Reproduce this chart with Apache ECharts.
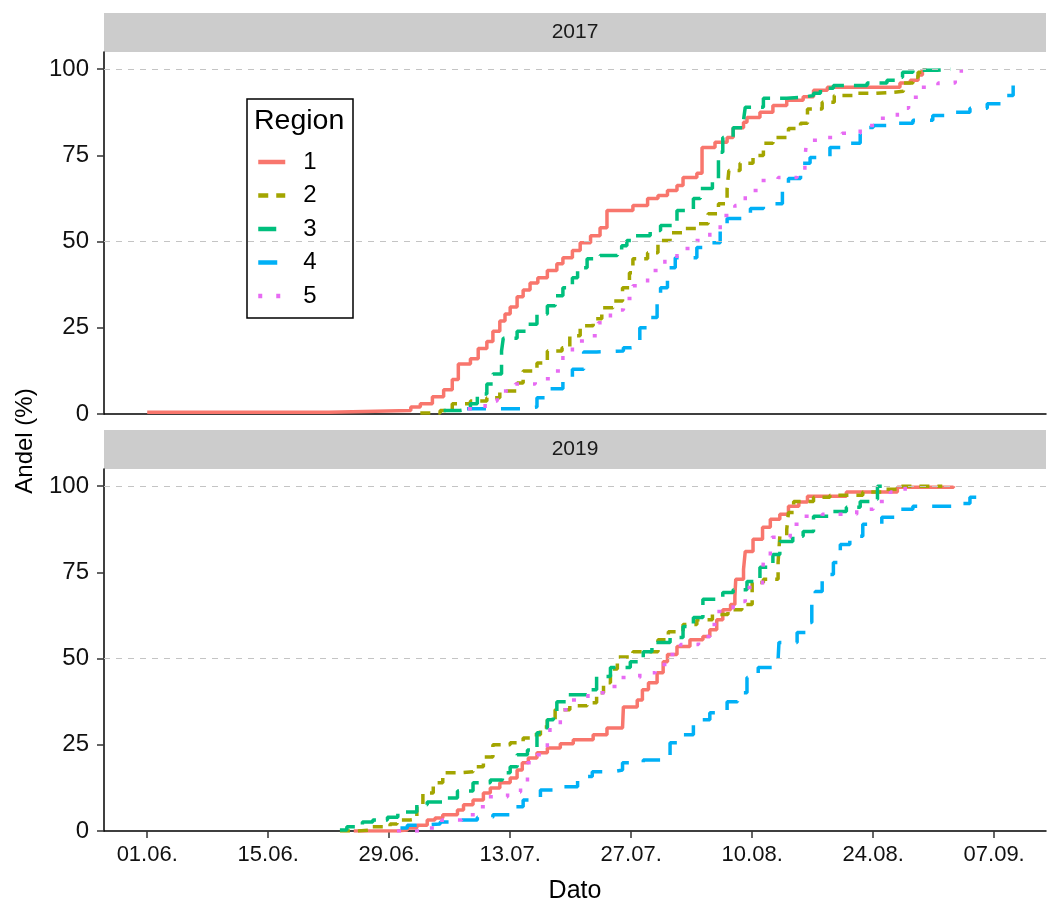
<!DOCTYPE html>
<html>
<head>
<meta charset="utf-8">
<title>Andel per region 2017 og 2019</title>
<script src="https://cdn.jsdelivr.net/npm/echarts@6.0.0/dist/echarts.min.js"></script>
<style>
  html, body { margin: 0; padding: 0; background: #fff; }
  #chart { width: 1047px; height: 903px; }
</style>
</head>
<body>
<div id="chart"></div>
<script>
// x = dager etter 01.06., y = andel (%)
const regions = ['1', '2', '3', '4', '5']
const years = ['2017', '2019']
const tickDays = [0, 14, 28, 42, 56, 70, 84, 98]
const yTicks = [0, 25, 50, 75, 100]
const gridLines = [50, 100]

const r1_2017 = [[0, 0.5], [21, 1], [30.5, 2], [31.6, 3], [33, 5], [34.3, 7], [35.3, 10], [36, 14.5], [37.4, 16], [38.3, 19], [39.3, 21], [40, 24], [40.8, 27], [41.4, 29], [42, 31], [42.8, 34], [43.5, 36], [44.3, 38], [45.2, 39.5], [46.3, 41.6], [47.4, 43.6], [48.1, 45.3], [49.2, 47.4], [50.1, 49.7], [51.3, 51.7], [52.4, 54], [53.2, 59], [56.2, 60.5], [57.9, 62.5], [59.1, 63.4], [60.2, 64.8], [61.3, 66.3], [62, 68.6], [63.6, 69.8], [64.2, 77.3], [65.7, 78.8], [67.1, 80.2], [67.8, 83], [69, 84.6], [69.4, 86], [70.9, 87.5], [72.4, 89.5], [74, 91], [75.9, 92], [77.1, 93.9], [78.7, 94.8], [87.1, 96], [88.3, 96.8], [89.2, 98.3], [89.7, 99.7], [90.2, 100]]
const r2_2017 = [[31.6, 0.3], [33.9, 1], [35.3, 3], [37.4, 3.8], [39.3, 4.7], [40.8, 6.7], [42.8, 9], [43.5, 12.5], [45.1, 14.8], [46.3, 18.3], [48, 19.2], [48.9, 22.7], [50.1, 25.6], [51.6, 27.6], [52.6, 30.8], [53.9, 32.8], [55, 36.6], [55.8, 41], [56.2, 45], [57.9, 46.8], [59.1, 50.3], [60.5, 52.6], [62.2, 53.8], [63.8, 55.2], [64.9, 58.1], [66.1, 61], [67.1, 65.4], [67.3, 70.6], [68.6, 72.7], [70.1, 75], [71.3, 78.5], [72.4, 80.2], [74.2, 82.8], [75.6, 84.3], [76.4, 88.5], [78.1, 90.4], [79.5, 92.4], [81.9, 93], [83.9, 93.3], [86.2, 93.6], [87.5, 96], [88.6, 97.7], [89.2, 99.1], [90, 100]]
const r3_2017 = [[34.3, 1], [36.2, 1.5], [37.4, 3], [38.2, 5.8], [39.3, 8.7], [40, 11.6], [41, 18.3], [41.2, 22], [42.8, 24], [44, 26], [45.1, 29], [46.3, 31.4], [47.2, 34.3], [48.1, 36.6], [49.2, 39.5], [49.8, 42.4], [50.9, 45], [52.4, 46], [54.4, 47.6], [54.9, 48.8], [55.5, 50.3], [56.1, 51.7], [58.2, 53.2], [59.4, 54.7], [61.3, 59], [63.2, 62.5], [64, 65.4], [65.4, 68.3], [66.1, 75.9], [66.6, 80.2], [67.8, 83], [69, 85.2], [69.2, 89], [71.3, 91.6], [74, 91.9], [75.9, 92.4], [77.1, 93], [77.9, 94.5], [79.4, 95.3], [83.3, 96], [85.6, 96.8], [86.9, 97.7], [87.4, 99.1], [88.6, 99.7], [91.4, 100], [93, 100]]
const r4_2017 = [[37, 1.5], [43.2, 2], [45.1, 4.7], [46.3, 7.3], [48.1, 10.2], [49.2, 13], [50.5, 18], [52, 18.3], [55.1, 19.2], [55.9, 19.5], [57, 25], [57.9, 28], [59, 34.3], [59.4, 36.6], [60.2, 42.4], [61.1, 45.3], [63.6, 48.3], [64.8, 49.7], [66.3, 54], [67.1, 56.7], [69.8, 59.6], [71.3, 61], [73.5, 64.8], [74.2, 68.3], [75.6, 72.7], [76.7, 74.4], [79, 77.3], [80.8, 78.5], [82.5, 83.1], [84, 83.7], [86.8, 84.3], [88.6, 85.2], [90.9, 86.6], [92.6, 87.5], [95.2, 88.7], [97.2, 90], [99.5, 92.4], [100.2, 95.3]]
const r5_2017 = [[37.1, 1.5], [39.1, 3.8], [40.5, 6.7], [42.6, 8.7], [44.9, 10.2], [47, 12.5], [48.1, 16.9], [49.2, 21.2], [51.3, 22.7], [52.2, 26.5], [53.6, 30.2], [55.1, 33.5], [56.2, 37.2], [57.9, 41.6], [59.9, 45], [61.3, 48], [63.4, 50.3], [65.1, 53.2], [66.3, 57.6], [68, 60.5], [69.2, 64.8], [70.9, 67.7], [73, 68.6], [75.2, 69.8], [76.1, 74.1], [76.3, 79.4], [78.2, 80.2], [80.4, 81.4], [82.5, 83.7], [84.6, 85.8], [86.8, 88.7], [88.1, 91.9], [89.2, 94.8], [91.5, 96], [93.5, 98.3], [94.2, 100]]

const r1_2019 = [[23.9, 0], [28.9, 0.3], [30.1, 0.9], [31.2, 1.7], [32.4, 3.2], [33.3, 3.8], [34.2, 4.7], [35.9, 6.1], [36.6, 7.6], [37.7, 9], [38.9, 11], [39.7, 12.5], [40.8, 14], [42, 15.4], [42.8, 17.7], [43.4, 19.8], [44.1, 21.2], [45.1, 22.7], [46.3, 24.1], [47.8, 25.3], [49.3, 26.5], [51.6, 27.9], [53.2, 29.9], [55, 30.2], [55.1, 36], [56.7, 38], [57.3, 41], [58, 43], [59, 45.9], [59.7, 49.1], [60.2, 51.2], [61.3, 53.5], [62.8, 55.5], [64.3, 56.4], [65.1, 58.4], [65.9, 61.3], [66.6, 64.2], [67.5, 65.7], [68, 68], [68.1, 73], [69, 75.9], [69.2, 81.1], [70.1, 84.6], [71.2, 88.1], [72.1, 90.4], [73.2, 91.9], [74.2, 94.2], [75.4, 95.4], [76.4, 97.1], [80.9, 98.3], [86.8, 99.7], [93.3, 100]]
const r2_2019 = [[22.3, 0], [24.3, 0.3], [25.8, 1.2], [28.1, 2], [28.9, 3.2], [30.4, 3.5], [31.2, 7], [31.9, 11], [33.1, 14], [34.2, 16.9], [36.2, 17.2], [37.7, 18.6], [38.9, 21.5], [40, 25], [42, 25.6], [43.5, 27], [44.7, 27.9], [45.5, 30.2], [46.3, 32.3], [47.2, 35.2], [48.9, 36.3], [50.9, 37.2], [52, 40.1], [52.8, 43], [53.6, 47], [54.4, 50.5], [56.2, 52], [59.1, 55.5], [60.3, 57.8], [62, 59.9], [63.6, 61.3], [65.4, 62.8], [67.2, 64.2], [68.8, 65.7], [70, 72.1], [71.3, 73], [73, 77.9], [73.2, 85.5], [74, 87.5], [74.2, 92.4], [74.8, 95.6], [77.1, 96.8], [79, 97.4], [82.8, 98.3], [85.2, 99.1], [86.8, 100], [92, 100]]
const r3_2019 = [[22.3, 0.3], [23.1, 1.2], [24.9, 2.6], [26.1, 3.2], [27.8, 4], [29, 5.5], [31.2, 7.6], [32.4, 8.4], [34.2, 9.6], [35.9, 11.6], [37.7, 14], [39.7, 14.8], [41.1, 16.9], [42, 18.6], [42.8, 22.1], [44, 23.5], [45.1, 28.5], [46.3, 32.3], [47, 34.6], [47.4, 37.5], [48.7, 39.5], [50.9, 41], [52, 44.8], [53.6, 47.4], [55.9, 49.1], [57.4, 52], [58.4, 54.7], [60.5, 56.1], [62, 59.3], [63.2, 61.9], [64.3, 67.2], [66.6, 69.2], [67.8, 70], [69.4, 72.4], [70.9, 76.5], [72.4, 80.2], [73.2, 84], [74.7, 85.5], [75.9, 86.9], [77.1, 91.3], [79, 92.7], [80.9, 93.9], [82.5, 95.6], [84, 96.2], [84.5, 100], [85, 100]]
const r4_2019 = [[29.3, 0.9], [30.1, 1.7], [31.2, 2], [33.9, 2.6], [35.4, 3.2], [38.2, 4], [40, 4.7], [42.3, 7], [43.5, 9], [45.5, 11.9], [47, 12.8], [49.8, 15.8], [51.5, 17.2], [53.9, 17.7], [55, 19.8], [57.4, 20.6], [59.4, 21.2], [60.5, 25.6], [62, 27.9], [63.2, 32.3], [65.1, 34.3], [67.1, 37.5], [68.3, 40.1], [69.4, 44.5], [70.7, 47.4], [73, 49.7], [73.1, 54.7], [75.2, 57.6], [76.4, 60.5], [76.9, 66.3], [77.3, 69.5], [78.1, 74.4], [79.4, 77.9], [80.2, 83.1], [81.3, 85.5], [82.8, 89], [85, 91], [87.1, 93.3], [88.6, 94.2], [93.1, 95], [95.2, 96.8], [96.1, 99.7], [96.4, 100]]
const r5_2019 = [[28.9, 0], [32.4, 0.9], [34.1, 3.2], [36.4, 4.7], [38, 7], [39.5, 9.9], [41.7, 11.3], [43.2, 14], [44, 19.8], [45.1, 22.1], [46.3, 25.9], [46.6, 30.8], [47.8, 35.2], [48.7, 38], [51, 40.1], [53.2, 41.9], [54.7, 44.5], [57, 45.9], [58.8, 48.3], [60.2, 51.2], [61.7, 54.1], [63.8, 56.4], [65.1, 59.9], [65.9, 63.7], [67.8, 66.6], [69.2, 70.6], [71.2, 73], [71.3, 78.8], [72.1, 82.3], [72.3, 85.2], [74.4, 89], [75.9, 91.3], [78.1, 91.9], [80.4, 91.9], [82.1, 93.3], [84, 95.6], [86, 98.3], [87.7, 100], [88.5, 100]]

const panels = [
  [r1_2017, r2_2017, r3_2017, r4_2017, r5_2017],
  [r1_2019, r2_2019, r3_2019, r4_2019, r5_2019]
]

const colors = ['#F8766D', '#A3A500', '#00BF7D', '#00B0F6', '#E76BF3']
const dashes = ['solid', [10, 8], [18, 10], [19, 15], [4, 14]]
const font = '"Liberation Sans", Arial, sans-serif'

function pad(n) {
  return n < 10 ? '0' + n : '' + n
}

function dayLabel(d) {
  const dt = new Date(2019, 5, 1 + d)
  return pad(dt.getDate()) + '.' + pad(dt.getMonth() + 1) + '.'
}

// outerBoundsMode none: ellers krymper v6 rutenettet
const gridPos = [
  { left: 104, width: 942, top: 52, height: 362, outerBoundsMode: 'none' },
  { left: 104, width: 942, top: 469, height: 362, outerBoundsMode: 'none' }
]

const axisLine = { show: true, onZero: false, lineStyle: { color: '#000', width: 1.5 } }

const xAxis = gridPos.map((g, i) => ({
  type: 'value',
  gridIndex: i,
  min: -5,
  max: 104,
  axisLine: axisLine,
  axisTick: { show: i === 1, length: 7, lineStyle: { color: '#333', width: 1.5 }, customValues: tickDays },
  axisLabel: { show: i === 1, customValues: tickDays, formatter: dayLabel, fontSize: 22, color: '#111', margin: 13, fontFamily: font },
  splitLine: { show: false },
  name: i === 1 ? 'Dato' : '',
  nameLocation: 'middle',
  nameGap: 48,
  nameTextStyle: { fontSize: 25, color: '#000', fontFamily: font }
}))

const yAxis = gridPos.map((g, i) => ({
  type: 'value',
  gridIndex: i,
  min: 0,
  max: 105,
  interval: 25,
  axisLine: axisLine,
  axisTick: { show: true, length: 7, lineStyle: { color: '#333', width: 1.5 }, customValues: yTicks },
  axisLabel: { customValues: yTicks, fontSize: 24, color: '#111', margin: 15, fontFamily: font },
  splitLine: { show: false }
}))

const series = []
panels.forEach((list, p) => {
  list.forEach((data, i) => {
    const s = {
      name: regions[i],
      type: 'line',
      step: 'end',
      xAxisIndex: p,
      yAxisIndex: p,
      data: data,
      symbol: 'none',
      showSymbol: false,
      itemStyle: { color: colors[i] },
      lineStyle: { color: colors[i], width: 3.5, type: dashes[i], cap: 'butt' }
    }
    if (i === 0) {
      s.markLine = {
        silent: true,
        symbol: 'none',
        label: { show: false },
        lineStyle: { color: '#c4c4c4', type: [6, 6], width: 1 },
        data: gridLines.map(v => ({ yAxis: v }))
      }
    }
    series.push(s)
  })
})

const graphics = []
years.forEach((y, i) => {
  const g = gridPos[i]
  graphics.push({
    type: 'rect',
    shape: { x: g.left, y: g.top - 39, width: g.width, height: 39 },
    style: { fill: '#cccccc' },
    silent: true
  })
  graphics.push({
    type: 'text',
    x: g.left + g.width / 2,
    y: g.top - 19.5,
    style: { text: y, fontSize: 21, fill: '#1a1a1a', fontFamily: font, align: 'center', verticalAlign: 'middle' },
    silent: true
  })
})
graphics.push({
  type: 'text',
  x: 25,
  y: 441,
  rotation: Math.PI / 2,
  style: { text: 'Andel (%)', fontSize: 24, fill: '#000', fontFamily: font, align: 'center', verticalAlign: 'middle' },
  silent: true
})
// legend box + tittel
graphics.push({
  type: 'rect',
  shape: { x: 247, y: 99, width: 106, height: 219 },
  style: { fill: '#fff', stroke: '#000', lineWidth: 1.5 },
  z: 5,
  silent: true
})
graphics.push({
  type: 'text',
  x: 254,
  y: 121,
  style: { text: 'Region', fontSize: 28.5, fill: '#000', fontFamily: font, verticalAlign: 'middle' },
  z: 6,
  silent: true
})

const myChart = echarts.init(document.getElementById('chart'))
myChart.setOption({
  animation: false,
  backgroundColor: '#fff',
  grid: gridPos,
  xAxis: xAxis,
  yAxis: yAxis,
  legend: {
    orient: 'vertical',
    left: 251,
    top: 145,
    itemWidth: 27,
    itemHeight: 14,
    itemGap: 9.5,
    z: 10,
    itemStyle: { opacity: 0 },
    lineStyle: { width: 4.5 },
    textStyle: { fontSize: 24, color: '#000', fontFamily: font, lineHeight: 24, padding: [0, 0, 0, 13] },
    data: regions
  },
  graphic: graphics,
  series: series
})
window.addEventListener('resize', function() {
  myChart.resize()
})
</script>
</body>
</html>
